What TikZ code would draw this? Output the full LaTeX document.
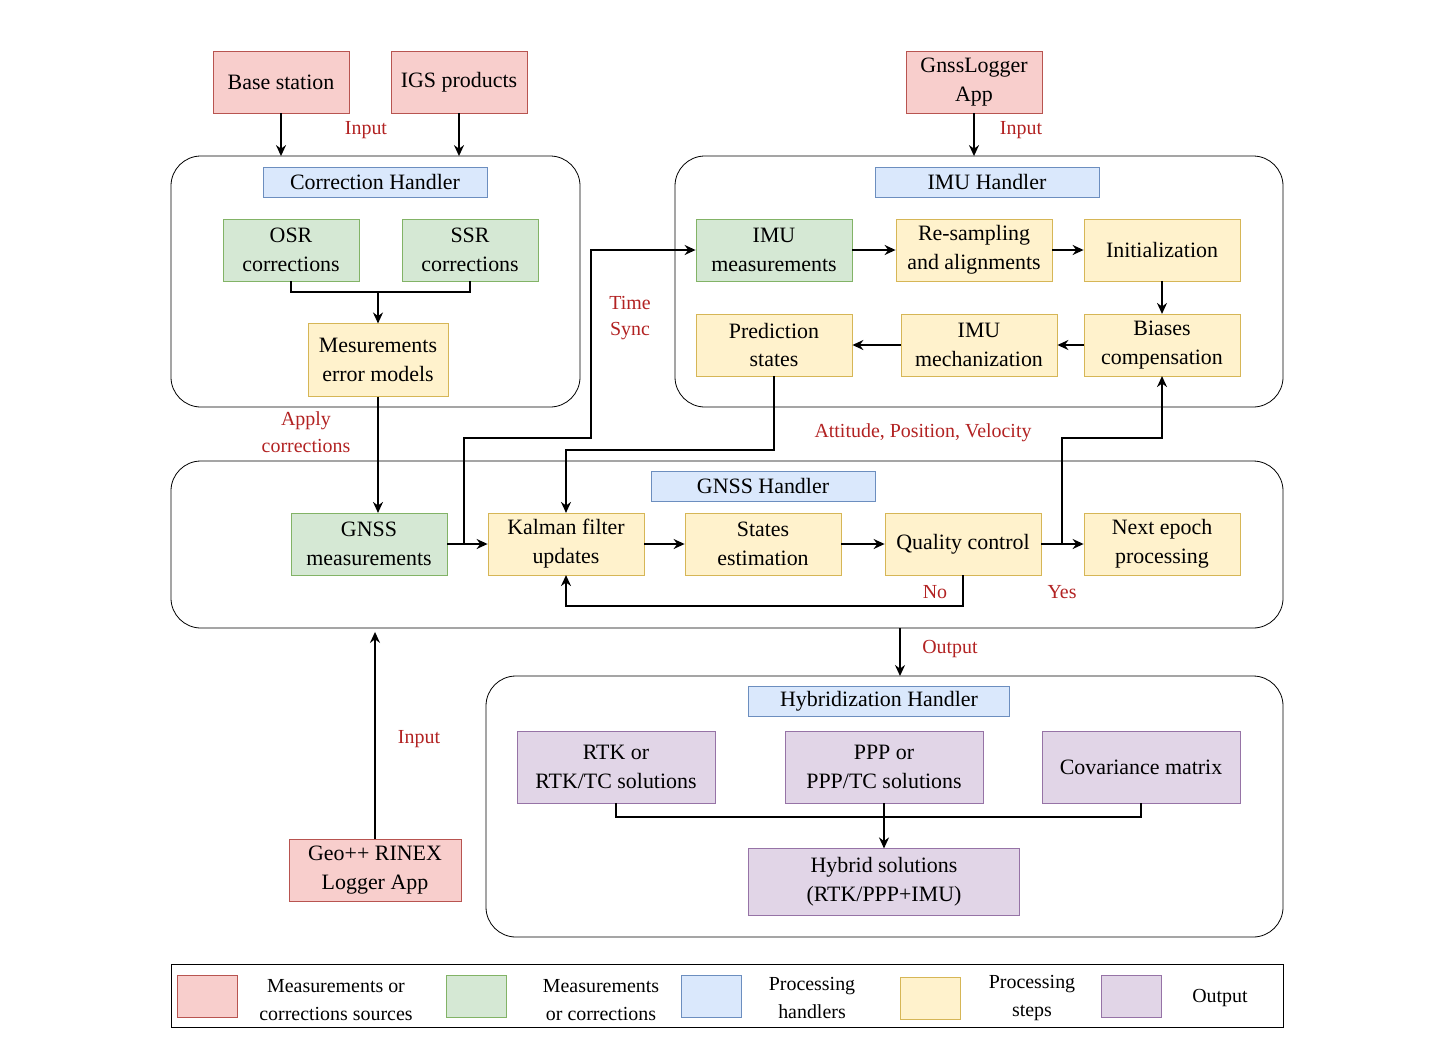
\documentclass[tikz,border=0pt]{standalone}
\usepackage{fontspec}
\setmainfont{Liberation Serif}
\usetikzlibrary{arrows.meta,positioning,calc}
\definecolor{srcfill}{HTML}{F8CECC}\definecolor{srcline}{HTML}{B85450}
\definecolor{measfill}{HTML}{D5E8D4}\definecolor{measline}{HTML}{82B366}
\definecolor{hdlfill}{HTML}{DAE8FC}\definecolor{hdlline}{HTML}{6C8EBF}
\definecolor{stepfill}{HTML}{FFF2CC}\definecolor{stepline}{HTML}{D6B656}
\definecolor{outfill}{HTML}{E1D5E7}\definecolor{outline}{HTML}{9673A6}
\definecolor{lblred}{HTML}{B22222}
\tikzset{
  box/.style={draw, align=center, inner sep=1pt, font=\fontsize{22}{29}\selectfont},
  src/.style={box, fill=srcfill, draw=srcline, minimum width=136, minimum height=62},
  meas/.style={box, fill=measfill, draw=measline, minimum width=137, minimum height=62},
  hdl/.style={box, fill=hdlfill, draw=hdlline, minimum width=225, minimum height=30},
  proc/.style={box, fill=stepfill, draw=stepline, minimum width=157, minimum height=62},
  outp/.style={box, fill=outfill, draw=outline, minimum width=199, minimum height=72},
  cont/.style={draw, rounded corners=30, line width=0.8},
  flow/.style={line width=2.5, -{Stealth[length=11,width=10]}},
  link/.style={line width=2.5},
  note/.style={text=lblred, align=center, font=\fontsize{20}{27}\selectfont},
  swatch/.style={draw, minimum width=60, minimum height=42},
  legtext/.style={align=center, font=\fontsize{20}{28}\selectfont},
}
\begin{document}
\begin{tikzpicture}[x=1bp,y=-1bp]
\useasboundingbox (0,0) rectangle (1453,1041);

% containers
\draw[cont] (171,156) rectangle (580,407);
\draw[cont] (675,156) rectangle (1283,407);
\draw[cont] (171,461) rectangle (1283,628);
\draw[cont] (486,676) rectangle (1283,937);

% sources
\node[src] (base) at (281,82) {Base station};
\node[src] (igs) at (459,82) {IGS products};
\node[src] (gnsslog) at (974,82) {GnssLogger\\App};
\node[src, minimum width=173] (geopp) at (375,870) {Geo++ RINEX\\Logger App};

% correction handler
\node[hdl] (corrh) at (375,182) {Correction Handler};
\node[meas] (osr) at (291,250) {OSR\\corrections};
\node[meas] (ssr) at (470,250) {SSR\\corrections};
\node[proc, minimum width=140, minimum height=73] (errmod) at (378,360) {Mesurements\\error models};

% IMU handler
\node[hdl] (imuh) at (987,182) {IMU Handler};
\node[meas, minimum width=157] (imumeas) at (774,250) {IMU\\measurements};
\node[proc] (resamp) at (974,250) {Re-sampling\\and alignments};
\node[proc] (init) at (1162,250) {Initialization};
\node[proc] (pred) at (774,345) {Prediction\\states};
\node[proc] (mech) at (979,345) {IMU\\mechanization};
\node[proc] (bias) at (1162,345) {Biases\\compensation};

% GNSS handler
\node[hdl] (gnssh) at (763,486) {GNSS Handler};
\node[meas, minimum width=157] (gnssmeas) at (369,544) {GNSS\\measurements};
\node[proc] (kalman) at (566,544) {Kalman filter\\updates};
\node[proc] (states) at (763,544) {States\\estimation};
\node[proc] (quality) at (963,544) {Quality control};
\node[proc] (next) at (1162,544) {Next epoch\\processing};

% hybridization handler
\node[hdl, minimum width=262] (hybh) at (879,701) {Hybridization Handler};
\node[outp] (rtk) at (616,767) {RTK or\\RTK/TC solutions};
\node[outp] (ppp) at (884,767) {PPP or\\PPP/TC solutions};
\node[outp] (cov) at (1141,767) {Covariance matrix};
\node[outp, minimum width=272, minimum height=67] (hybrid) at (884,882) {Hybrid solutions\\(RTK/PPP+IMU)};

% inputs
\draw[flow] (base.south) -- ++(0,43);
\draw[flow] (igs.south) -- ++(0,43);
\draw[flow] (gnsslog.south) -- ++(0,43);
\node[note] (in1) at (366,130) {Input};
\node[note] (in2) at (1021,130) {Input};
\draw[flow] (geopp.north) -- ++(0,-207);
\node[note] (in3) at (419,739) {Input};

% correction flow
\draw[link] (osr.south) |- (378,292) -| (ssr.south);
\draw[flow] (378,292) -- (errmod.north);
\draw[flow] (errmod.south) -- (gnssmeas.north -| errmod.south);
\node[note] (apply) at (306,432) {Apply\\corrections};

% IMU flow
\draw[flow] (imumeas) -- (resamp);
\draw[flow] (resamp) -- (init);
\draw[flow] (init) -- (bias);
\draw[flow] (bias) -- (mech);
\draw[flow] (mech) -- (pred);
\draw[flow] (pred.south) -- ++(0,74) -| (kalman.north);
\node[note] (apv) at (923,433) {Attitude, Position, Velocity};

% GNSS flow
\draw[flow] (gnssmeas) -- (kalman);
\draw[flow] (464,544) -- (464,438) -- (591,438) |- (imumeas.west);
\node[note] (tsync) at (630,318) {Time\\Sync};
\draw[flow] (kalman) -- (states);
\draw[flow] (states) -- (quality);
\draw[flow] (quality) -- (next);
\draw[flow] (1062,544) -- (1062,438) -| (bias.south);
\node[note] (yes) at (1062,592) {Yes};
\draw[flow] (quality.south) -- ++(0,31) -| (kalman.south);
\node[note] (no) at (935,592) {No};

% output
\draw[flow] (900,628) -- (900,676);
\node[note] (outlbl) at (950,649) {Output};
\draw[link] (rtk.south) |- (884,817) -| (cov.south);
\draw[flow] (ppp.south) -- (hybrid.north);

% legend
\draw[line width=0.8] (171,964) rectangle (1283,1027);
\node[swatch, fill=srcfill, draw=srcline] (sw1) at (207,996) {};
\node[legtext] (lg1) at (336,1000) {Measurements or\\corrections sources};
\node[swatch, fill=measfill, draw=measline] (sw2) at (476,996) {};
\node[legtext] (lg2) at (601,1000) {Measurements\\or corrections};
\node[swatch, fill=hdlfill, draw=hdlline] (sw3) at (711,996) {};
\node[legtext] (lg3) at (812,998) {Processing\\handlers};
\node[swatch, fill=stepfill, draw=stepline] (sw4) at (930,998) {};
\node[legtext] (lg4) at (1032,998) {Processing\\steps};
\node[swatch, fill=outfill, draw=outline] (sw5) at (1131,996) {};
\node[legtext] (lg5) at (1220,998) {Output};
\end{tikzpicture}
\end{document}
